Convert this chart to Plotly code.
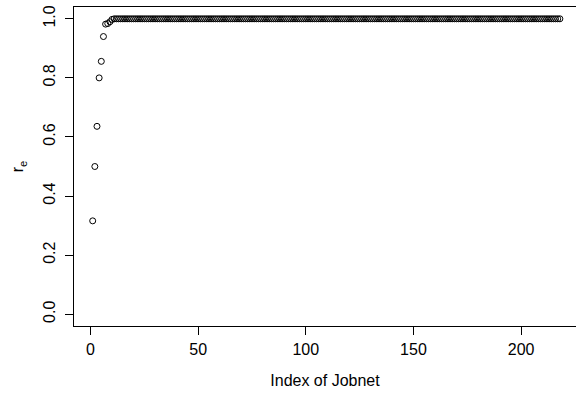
import plotly.graph_objects as go

# Data
first_values = [0.316, 0.500, 0.636, 0.800, 0.856, 0.940, 0.982, 0.984, 0.990, 0.998]
plateau_values = [1.0] * 208
re_values = first_values + plateau_values
job_index = list(range(1, len(re_values) + 1))

x_ticks = [0, 50, 100, 150, 200]
y_ticks = [0.0, 0.2, 0.4, 0.6, 0.8, 1.0]
y_tick_labels = ["0.0", "0.2", "0.4", "0.6", "0.8", "1.0"]

W, H = 576, 394
ml, mr, mt, mb = 73.5, 0, 7, 67.5
n = len(re_values)
ext = 0.04 * (n - 1)
x_left = 1 - ext
x_right = x_left + (W - ml - mr) / 2.155

font = dict(family="Liberation Sans, Arial, Helvetica, sans-serif", size=16, color="black")

fig = go.Figure()
fig.add_trace(go.Scatter(
    x=job_index, y=re_values, mode="markers",
    marker=dict(symbol="circle-open", size=6, color="black", line=dict(width=1, color="black")),
    showlegend=False, cliponaxis=False,
))

fig.update_layout(
    width=W, height=H,
    margin=dict(l=ml, r=mr, t=mt, b=mb, pad=0),
    paper_bgcolor="white", plot_bgcolor="white",
    font=font,
    xaxis=dict(
        range=[x_left, x_right], tickvals=x_ticks, ticktext=[str(v) for v in x_ticks],
        ticks="outside", ticklen=8, tickwidth=1, tickcolor="black",
        showline=True, linecolor="black", linewidth=1, mirror=True,
        showgrid=False, zeroline=False,
        title=dict(text="Index of Jobnet", standoff=17, font=font),
        ticklabelstandoff=1,
    ),
    yaxis=dict(
        range=[-0.04, 1.04], tickvals=y_ticks, ticktext=y_tick_labels,
        ticks="outside", ticklen=8, tickwidth=1, tickcolor="black",
        showline=True, linecolor="black", linewidth=1, mirror=False,
        showgrid=False, zeroline=False, tickangle=-90,
        title=dict(text="r<sub>e</sub>", standoff=12, font=font),
        ticklabelstandoff=4,
    ),
)

fig.write_html("out.html")
